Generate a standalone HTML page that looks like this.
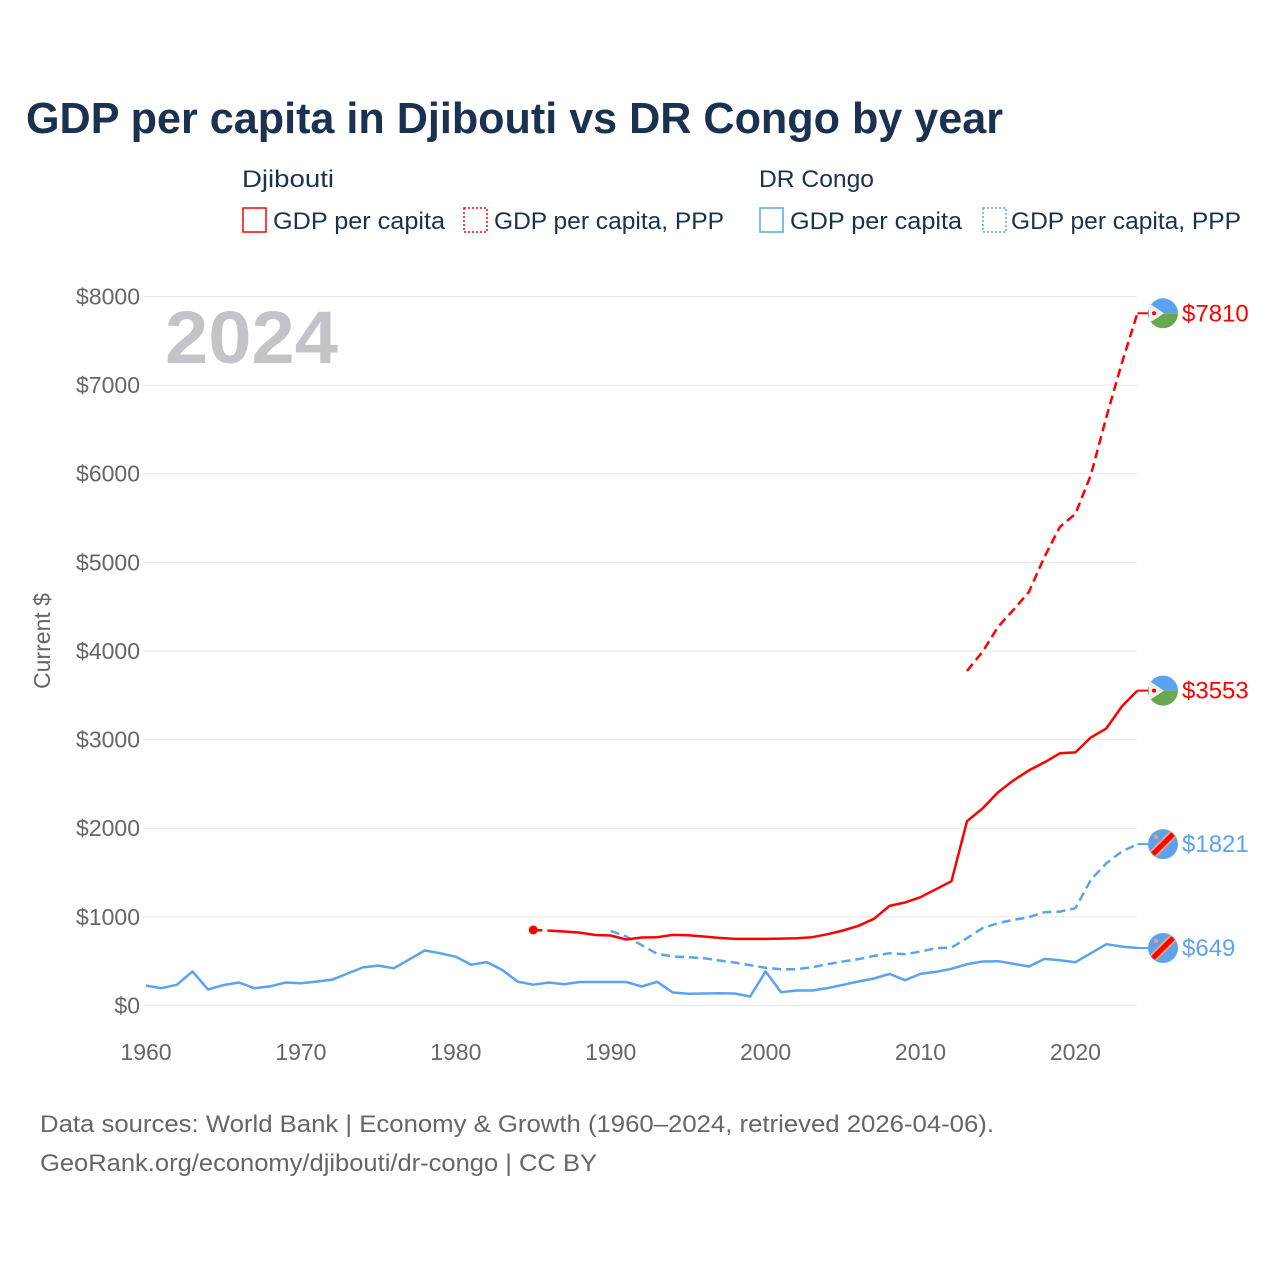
<!DOCTYPE html>
<html><head><meta charset="utf-8"><style>
html,body{margin:0;padding:0;background:#fff;}
svg{display:block;font-family:"Liberation Sans",sans-serif;}
</style></head><body>
<svg id="chart" width="1280" height="1280" viewBox="0 0 1280 1280" xmlns="http://www.w3.org/2000/svg">
<text x="26" y="133" font-size="44" font-weight="bold" fill="#1b3150" textLength="977" lengthAdjust="spacingAndGlyphs">GDP per capita in Djibouti vs DR Congo by year</text>
<g font-size="24" fill="#1b3150">
<text x="242" y="187" textLength="92" lengthAdjust="spacingAndGlyphs">Djibouti</text>
<text x="759" y="187" textLength="115" lengthAdjust="spacingAndGlyphs">DR Congo</text>
<g><rect x="243" y="208" width="23" height="24" fill="none" stroke="#f00" stroke-width="1.5"/><text x="273" y="229" textLength="172" lengthAdjust="spacingAndGlyphs">GDP per capita</text></g>
<g><rect x="464" y="208" width="23" height="24" fill="none" stroke="#f00" stroke-width="1.5" stroke-dasharray="2,2"/><text x="494" y="229" textLength="230" lengthAdjust="spacingAndGlyphs">GDP per capita, PPP</text></g>
<g><rect x="760" y="208" width="23" height="24" fill="none" stroke="#5ba3ee" stroke-width="1.5"/><text x="790" y="229" textLength="172" lengthAdjust="spacingAndGlyphs">GDP per capita</text></g>
<g><rect x="983" y="208" width="23" height="24" fill="none" stroke="#5ba3ee" stroke-width="1.5" stroke-dasharray="2,2"/><text x="1011" y="229" textLength="230" lengthAdjust="spacingAndGlyphs">GDP per capita, PPP</text></g>
</g>
<text x="165" y="363" font-size="74" font-weight="bold" fill="#c3c4c7" textLength="173" lengthAdjust="spacingAndGlyphs">2024</text>
<text transform="translate(50,641) rotate(-90)" text-anchor="middle" font-size="23" fill="#666">Current $</text>
<g id="grid"></g>
<g id="marks"></g>
<text x="40" y="1132" font-size="24" fill="#666" textLength="954" lengthAdjust="spacingAndGlyphs">Data sources: World Bank | Economy &amp; Growth (1960–2024, retrieved 2026-04-06).</text>
<text x="40" y="1171" font-size="24" fill="#666" textLength="557" lengthAdjust="spacingAndGlyphs">GeoRank.org/economy/djibouti/dr-congo | CC BY</text>
</svg>
<script>
const yTicks=[0,1000,2000,3000,4000,5000,6000,7000,8000];
const xTicks=[1960,1970,1980,1990,2000,2010,2020];
const drcStart=1960;
const drcGdp=[225,195,235,385,180,230,260,195,215,260,250,270,290,360,430,450,420,520,620,590,550,460,490,400,270,235,260,240,265,265,265,265,214,267,147,132,135,139,135,102,384,150,169,169,196,233,271,305,357,286,357,380,414,466,496,500,470,440,526,511,489,590,692,665,649];
const drcPppStart=1990;
const drcPpp=[842,778,680,583,553,545,534,508,485,455,425,410,410,432,466,496,523,560,590,579,609,647,654,760,872,929,966,996,1053,1060,1098,1418,1605,1737,1821];
const djiGdpStart=1985;
const djiGdp=[852,845,835,822,795,790,745,767,771,797,793,778,763,752,752,752,755,759,771,805,846,899,978,1124,1162,1222,1312,1402,2079,2223,2404,2540,2653,2743,2845,2856,3025,3127,3375,3553];
const djiPppStart=2013;
const djiPpp=[3775,3990,4272,4464,4667,5060,5400,5547,5987,6640,7250,7810];
const endLabels=["$7810","$3553","$1821","$649"];

const NS="http://www.w3.org/2000/svg";
const X=y=>146+(y-1960)*15.49;
const Y=v=>1005.5-v*0.08863;
function el(t,a,p){const e=document.createElementNS(NS,t);for(const k in a)e.setAttribute(k,a[k]);p.appendChild(e);return e;}
const grid=document.getElementById('grid'),marks=document.getElementById('marks');
yTicks.forEach(v=>{
 const l=el('line',{x1:143,x2:1137,y1:Y(v),y2:Y(v),stroke:'#e6e6e6','stroke-width':1},grid);
 
 
 const t=el('text',{x:140,y:Y(v)+8,'text-anchor':'end','font-size':23,fill:'#666'},grid);
 t.textContent='$'+v;
 
 
});
xTicks.forEach(y=>{
 const t=el('text',{x:X(y),y:1060,'text-anchor':'middle','font-size':23,fill:'#666'},grid);
 t.textContent=y;
 
 
});
function pts(arr,start){return arr.map((v,i)=>X(start+i).toFixed(1)+','+Y(v).toFixed(1)).join(' ');}
function line(arr,start,color,dash,name){
 const p=el('polyline',{points:pts(arr,start),fill:'none',stroke:color,'stroke-width':2.5,'stroke-linejoin':'round'},marks);
 if(dash)p.setAttribute('stroke-dasharray',dash);
 
 
}
line(drcGdp,drcStart,'#5ba3ee',null,'drc-gdp-line');
line(drcPpp,drcPppStart,'#5ba3ee','9,5','drc-ppp-line');
line(djiGdp.slice(0,2),djiGdpStart,'#f00','9,5','djibouti-gdp-gap');
line(djiGdp.slice(1),djiGdpStart+1,'#f00',null,'djibouti-gdp-line');
line(djiPpp,djiPppStart,'#f00','9,5','djibouti-ppp-line');
const dot=el('circle',{cx:X(djiGdpStart),cy:Y(djiGdp[0]),r:4.5,fill:'#f00'},marks);


function djFlag(cy){
 const g=el('g',{},marks);
 
 
 const cx=1163,r=15;
 el('path',{d:`M${cx-r},${cy} A${r},${r} 0 0 1 ${cx+r},${cy} Z`,fill:'#5ba3ee'},g);
 el('path',{d:`M${cx-r},${cy} A${r},${r} 0 0 0 ${cx+r},${cy} Z`,fill:'#6aa84f'},g);
 el('path',{d:`M${cx-r+1},${cy-10} L${cx+1},${cy} L${cx-r+1},${cy+10} Z`,fill:'#eee'},g);
 el('circle',{cx:cx-9,cy:cy,r:2,fill:'#f00'},g);
}
function cdFlag(cy){
 const g=el('g',{},marks);
 
 
 const cx=1163,r=15;
 el('circle',{cx,cy,r,fill:'#5ba3ee'},g);
 el('line',{x1:cx-10,y1:cy+10,x2:cx+10,y2:cy-10,stroke:'#f0a070','stroke-width':9},g);
 el('line',{x1:cx-10,y1:cy+10,x2:cx+10,y2:cy-10,stroke:'#f00','stroke-width':5},g);
 el('circle',{cx:cx-7,cy:cy-7,r:2,fill:'#f0a070'},g);
}
const ends=[[djiPpp[djiPpp.length-1],'#f00',djFlag],[djiGdp[djiGdp.length-1],'#f00',djFlag],[drcPpp[drcPpp.length-1],'#5ba3ee',cdFlag],[drcGdp[drcGdp.length-1],'#5ba3ee',cdFlag]];
ends.forEach((e,i)=>{
 const cy=Y(e[0]);
 const c=el('line',{x1:X(2024),x2:1148,y1:cy,y2:cy,stroke:e[1],'stroke-width':2},marks);
 
 
 e[2](cy);
 const t=el('text',{x:1182,y:cy+8,'font-size':24,fill:e[1]},marks);
 t.textContent=endLabels[i];
 
 
});
</script>
</body></html>
